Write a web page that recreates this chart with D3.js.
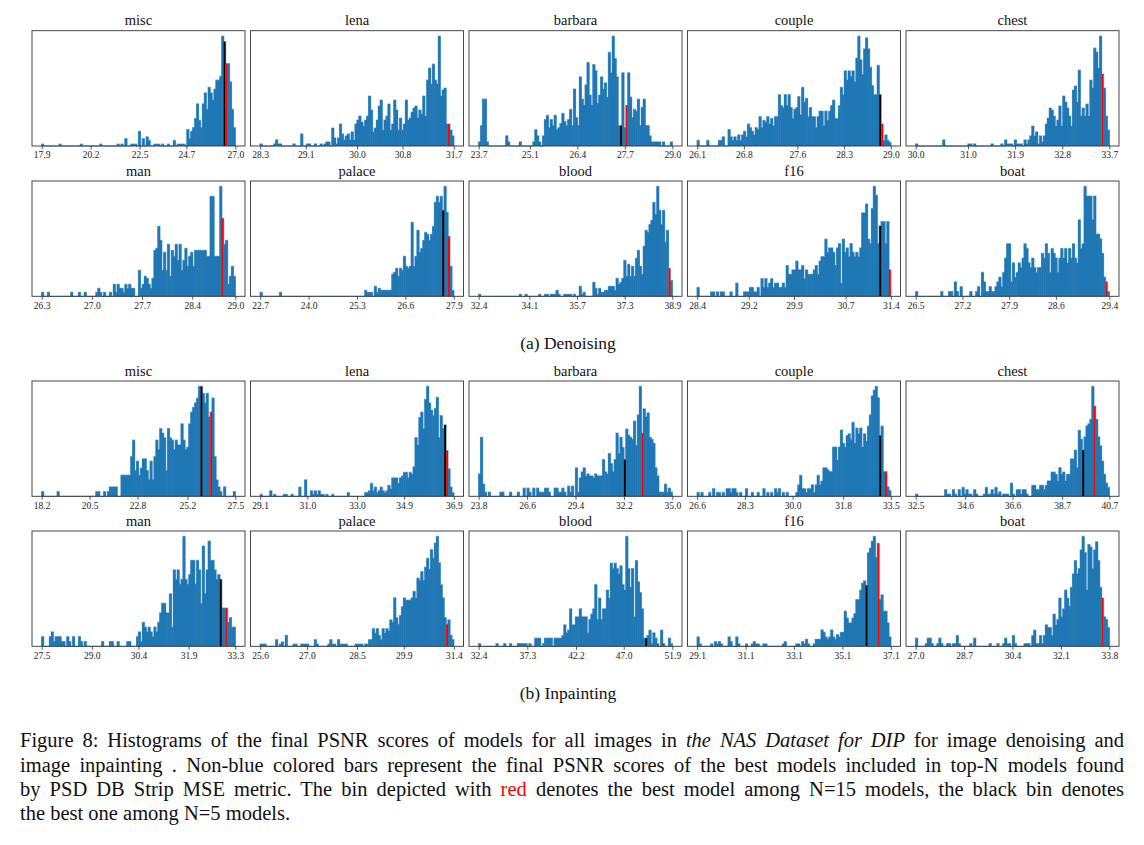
<!DOCTYPE html>
<html><head><meta charset="utf-8">
<script src="https://cdn.jsdelivr.net/npm/d3@7"></script>
<style>body{margin:0;background:#fff}</style>
</head><body>
<svg id="c" width="1144" height="845"></svg>
<script>
// ---------- DATA ----------
const imageNames = ["misc","lena","barbara","couple","chest","man","palace","blood","f16","boat"];

const denTicks = [
  [17.9,20.2,22.5,24.7,27.0],[28.3,29.1,30.0,30.8,31.7],[23.7,25.1,26.4,27.7,29.0],[26.1,26.8,27.6,28.3,29.0],[30.0,31.0,31.9,32.8,33.7],
  [26.3,27.0,27.7,28.4,29.0],[22.7,24.0,25.3,26.6,27.9],[32.4,34.1,35.7,37.3,38.9],[28.4,29.2,29.9,30.7,31.4],[26.5,27.2,27.9,28.6,29.4]
];
const inpTicks = [
  [18.2,20.5,22.8,25.2,27.5],[29.1,31.0,33.0,34.9,36.9],[23.8,26.6,29.4,32.2,35.0],[26.6,28.3,30.0,31.8,33.5],[32.5,34.6,36.6,38.7,40.7],
  [27.5,29.0,30.4,31.9,33.3],[25.6,27.0,28.5,29.9,31.4],[32.4,37.3,42.2,47.0,51.9],[29.1,31.1,33.1,35.1,37.1],[27.0,28.7,30.4,32.1,33.8]
];

// histogram counts, 100 bins each (denoising)
const denMisc = [1,0,0,0,0,0,0,0,0,1, 0,0,0,0,0,0,0,0,0,0, 1,0,0,0,0,0,0,0,0,0, 1,0,0,0,0,0,0,0,0,1,
  0,1,0,4,0,0,1,1,1,0, 8,0,4,0,5,3,0,0,1,1, 1,0,1,0,0,1,0,0,3,0, 1,1,1,1,0,9,4,8,10,15,
  23,14,10,23,29,20,32,29,25,31, 36,36,38,60,57,45,45,35,20,10];
const denLena = [1,0,0,0,0,0,0,1,3,1, 1,0,0,0,0,0,0,1,0,0, 0,6,0,0,1,1,0,0,1,0, 0,1,0,1,2,2,0,9,4,1,
  4,11,6,3,5,6,3,7,3,11, 13,15,12,10,13,15,25,18,7,9, 13,20,23,8,13,15,21,8,11,23, 18,8,14,8,11,23,13,14,17,19,
  20,14,18,16,25,15,33,39,31,41, 33,31,55,25,28,29,11,11,8,5];
const denBarbara = [2,10,23,23,2,0,0,0,0,0, 0,0,0,0,5,2,0,0,0,0, 0,2,0,0,0,0,0,0,2,8, 5,2,0,5,13,15,9,13,10,15,
  8,9,11,16,12,10,13,18,10,28, 14,10,34,23,20,30,41,25,20,40, 37,21,25,34,28,31,24,46,36,54, 43,34,10,10,36,9,20,36,24,14,
  18,17,23,10,19,23,10,10,5,2, 2,2,2,2,0,2,0,0,0,2];
const denCouple = [3,0,0,0,0,3,0,0,0,0, 0,3,3,5,0,0,9,5,3,5, 3,6,3,6,8,5,12,10,8,6, 10,9,16,10,14,13,16,12,15,11,
  16,16,28,22,21,28,22,28,21,15, 20,21,27,17,32,24,26,16,21,16, 16,10,16,19,19,11,19,14,19,22, 25,15,15,22,32,28,41,36,41,38,
  41,35,48,60,47,39,53,59,53,43, 33,28,28,44,28,12,3,6,3,2];
const denChest = [1,0,0,0,0,0,0,0,0,0, 0,0,0,0,3,0,0,0,0,0, 0,0,0,0,0,0,0,1,1,0, 1,0,0,0,0,0,0,0,0,1,
  0,0,0,0,1,0,3,1,1,1, 0,3,1,1,1,0,3,1,3,5, 10,5,7,1,5,2,5,11,14,19, 18,15,10,13,20,10,25,22,19,15,
  10,28,30,22,38,15,19,15,21,15, 33,29,49,47,39,55,36,29,15,8];
const denMan = [2,0,0,2,0,0,0,0,0,0, 0,0,0,0,0,2,0,0,0,2, 0,0,2,0,0,0,0,0,2,4, 2,0,2,0,0,2,0,6,2,6,
  4,4,2,6,4,6,4,4,0,0, 13,4,6,10,9,6,4,9,23,24, 35,28,13,22,13,26,10,23,20,26, 18,26,13,18,24,15,20,22,15,23,
  23,23,23,23,23,20,20,50,50,20, 20,20,55,39,26,28,6,10,15,10];
const denPalace = [2,0,0,0,0,0,0,0,0,0, 2,0,0,0,0,0,0,0,0,0, 0,0,0,0,0,0,0,0,0,0, 0,0,0,0,0,0,0,0,0,0,
  0,0,0,0,0,0,0,0,0,0, 0,0,0,0,3,2,2,2,0,5, 2,4,3,3,3,3,3,3,11,12, 14,10,14,13,20,15,14,15,37,15,
  20,33,22,24,28,32,31,28,31,35, 47,50,47,50,43,55,42,30,15,3];
const denBlood = [1,0,0,0,0,0,0,0,0,0, 0,0,0,0,0,0,0,0,0,0, 0,1,0,0,1,0,0,0,0,0, 0,1,0,0,1,1,0,1,1,1,
  3,1,0,0,1,1,1,1,0,1, 0,0,5,1,2,0,0,0,0,7, 4,1,4,2,2,3,3,5,5,5, 3,9,6,7,9,18,10,16,10,15,
  10,19,23,15,11,25,33,32,36,38, 47,41,55,43,36,43,27,33,14,8];
const denF16 = [2,0,0,0,0,0,0,1,1,0, 1,0,1,1,0,0,0,1,0,0, 3,0,0,0,1,1,1,2,2,1, 1,2,0,4,2,4,2,3,4,2,
  3,3,2,2,3,2,7,5,5,6, 6,8,6,6,7,4,6,5,5,5, 6,7,5,8,9,9,13,10,11,11, 10,7,11,12,3,13,10,11,9,12,
  10,9,10,9,11,19,19,21,13,12, 20,25,23,12,16,17,17,12,17,6];
const denBoat = [1,0,0,0,0,0,0,0,0,0, 0,0,0,1,0,0,0,1,1,0, 3,1,0,2,0,0,0,0,1,0, 0,1,2,0,5,3,1,1,2,1,
  1,2,3,4,2,5,8,11,11,3, 7,4,5,7,6,8,11,10,7,6, 8,6,5,6,6,9,8,11,9,5, 10,9,8,5,8,10,8,10,7,10,
  8,11,8,7,16,10,11,23,21,21, 21,16,21,13,13,12,9,4,3,1];

// histogram counts, 100 bins each (inpainting)
const inpMisc = [2,0,0,0,0,0,0,0,2,0, 0,0,0,0,0,0,0,0,0,0, 0,0,0,0,0,0,0,0,2,2, 0,0,2,0,2,4,4,4,4,0,
  0,9,9,9,9,9,17,24,11,15, 9,12,16,16,11,7,15,7,17,24, 20,29,27,25,11,29,25,24,20,24, 22,22,31,24,20,21,31,36,38,40,
  42,47,47,44,40,44,34,36,42,17, 7,4,2,0,4,0,0,0,0,2];
const inpLena = [1,0,0,0,0,3,0,1,0,0, 0,0,1,1,0,0,1,0,0,0, 5,0,0,9,0,0,3,1,3,1, 3,1,1,0,1,0,0,1,0,0,
  0,0,0,0,0,2,0,0,0,0, 0,0,0,0,2,2,3,7,3,5, 2,3,5,3,2,3,6,4,10,10, 10,7,10,11,13,13,10,13,12,16,
  32,28,43,46,37,53,60,51,47,44, 48,54,32,44,37,39,25,15,5,2];
const inpBarbara = [11,29,6,2,0,2,0,0,0,0, 0,2,2,0,0,0,2,0,0,0, 2,0,0,4,0,4,2,0,4,0, 4,2,2,2,4,4,2,0,0,4,
  4,2,2,4,2,0,5,2,5,0, 14,2,9,12,14,10,11,10,10,9, 11,10,10,10,18,12,11,21,16,12, 18,31,21,29,24,18,33,30,29,28,
  37,25,40,54,31,43,39,41,29,28, 26,14,10,2,2,2,6,2,4,2];
const inpCouple = [2,0,2,0,0,0,2,0,4,0, 2,2,0,2,0,4,4,2,4,4, 2,0,2,0,0,4,0,0,2,0, 0,2,0,0,4,0,2,0,2,0,
  4,2,4,0,2,0,2,0,0,0, 0,2,6,11,4,4,2,4,4,6, 2,6,11,6,8,15,15,14,13,13, 26,26,19,26,35,28,26,32,33,30,
  39,28,36,33,36,26,33,29,37,43, 53,56,58,52,32,37,13,13,5,3];
const inpChest = [1,0,0,0,0,0,0,0,0,0, 0,0,0,0,0,3,1,1,0,3, 1,0,3,0,4,1,3,1,1,0, 3,1,0,0,0,1,4,1,1,3,
  1,4,1,2,0,1,1,1,0,6, 1,0,3,3,1,3,3,1,0,0, 5,5,3,3,5,5,3,5,7,7, 11,11,10,7,13,10,11,7,10,10,
  17,17,21,13,30,26,21,27,32,33, 35,50,41,35,27,23,16,10,6,4];
const inpMan = [2,0,0,0,2,3,1,2,2,2, 1,1,0,2,1,0,2,0,0,2, 1,0,1,0,0,0,0,0,0,0, 0,1,0,0,0,1,1,0,0,1,
  0,0,0,0,1,1,0,0,0,2, 3,1,5,4,3,4,3,2,4,3, 5,7,9,9,7,7,11,4,16,14, 16,13,14,23,14,13,15,18,18,13,
  18,16,9,21,11,16,22,18,18,16, 14,15,14,8,8,8,5,6,4,4];
const inpPalace = [1,1,1,0,0,0,0,0,3,0, 1,2,0,5,0,0,0,1,1,0, 0,1,1,1,1,0,0,0,3,1, 0,0,0,0,0,1,3,1,1,0,
  3,1,1,1,1,0,0,0,0,1, 1,1,1,0,1,1,3,3,8,6, 8,5,3,8,6,8,7,12,11,22, 13,10,14,18,22,21,21,21,22,25,
  22,31,30,34,30,36,40,35,44,40, 47,50,38,28,22,13,10,12,5,3];
const inpBlood = [1,0,0,0,0,0,0,0,0,1, 0,0,0,1,0,0,1,0,0,0, 1,1,1,1,1,0,1,0,0,3, 3,3,0,1,3,3,3,3,0,3,
  3,3,3,4,8,5,6,14,8,8, 11,11,14,11,11,11,5,10,12,14, 23,10,18,10,14,14,21,18,31,29, 31,29,27,30,23,21,41,29,22,29,
  11,32,24,20,14,3,3,4,6,1, 5,3,1,0,6,1,0,0,3,1];
const inpF16 = [4,1,0,0,0,0,0,1,0,2, 1,2,1,0,0,0,4,2,0,0, 4,1,0,0,0,1,0,0,1,2, 1,1,0,0,1,1,0,0,0,0,
  0,0,0,0,1,2,0,0,0,0, 0,1,1,0,2,1,3,1,0,0, 1,3,3,3,7,6,4,3,4,7, 4,3,5,4,6,6,15,12,10,10,
  12,14,20,20,24,27,28,26,40,42, 45,47,38,44,20,22,15,15,10,4];
const inpBoat = [3,0,0,0,0,1,3,3,1,0, 0,1,3,1,0,0,1,1,0,1, 1,4,1,0,0,0,0,0,1,0, 3,0,0,0,0,0,0,0,1,0,
  0,0,1,0,0,1,3,1,1,0, 4,1,0,0,0,0,1,1,1,0, 4,6,1,1,4,1,4,8,7,7, 4,12,8,10,18,11,14,21,18,15,
  22,27,32,27,29,36,41,35,21,38, 37,29,36,39,32,22,18,11,10,7];

const denCounts = [denMisc,denLena,denBarbara,denCouple,denChest,denMan,denPalace,denBlood,denF16,denBoat];
const inpCounts = [inpMisc,inpLena,inpBarbara,inpCouple,inpChest,inpMan,inpPalace,inpBlood,inpF16,inpBoat];
// bin index of best model among top-5 (black) and top-15 (red)
const denBlack = [94,null,73,94,null,null,94,null,94,null];
const denRed   = [95,97,76,95,96,93,97,98,99,98];
const inpBlack = [82,95,75,94,86,92,null,86,87,null];
const inpRed   = [87,96,84,97,92,95,96,95,93,96];

const subCaptions = ["(a) Denoising","(b) Inpainting"];

// ---------- DRAW ----------
const svg = d3.select("#c");
const serif = "'Liberation Serif','Times New Roman',serif";
const W = 213, H = 115.3;
const colX = [0,1,2,3,4].map(c => 32 + c*218.5);
const rowY = [30.7, 181, 381, 531];

function drawPanel(name, ticks, counts, blackIdx, redIdx, x0, y0) {
  const g = svg.append("g");
  const lo = ticks[0], hi = ticks[ticks.length-1], span = hi - lo;
  const x = d3.scaleLinear().domain([lo - 0.05*span, hi + 0.05*span]).range([x0, x0 + W]);
  const y = d3.scaleLinear().domain([0, d3.max(counts)*1.05]).range([y0 + H, y0]);
  const n = counts.length, bw = span / n;
  const bins = counts.map((c,i) => ({i, c, a: lo + i*bw, b: lo + (i+1)*bw}));

  // light outline (halo) of the histogram silhouette
  const pts = bins.map(d => [d.a, d.c]);
  pts.push([hi, counts[n-1]]);
  const stepLine = d3.line().x(p => x(p[0])).y(p => y(p[1])).curve(d3.curveStepAfter);
  g.append("path")
    .attr("d", stepLine([[lo,0]].concat(pts).concat([[hi,0]])))
    .attr("fill","none").attr("stroke","#7fb3de").attr("stroke-width",1.3);

  const col = d => d.i === redIdx ? "#ff0000" : (d.i === blackIdx ? "#000000" : "#1f77b4");
  const drawn = bins.filter(d => d.c > 0);
  // blue bars first (slightly overlapping to avoid seams), highlighted bins on top
  g.selectAll("rect.bar").data(drawn.filter(d => d.i !== redIdx && d.i !== blackIdx)).join("rect")
    .attr("class","bar")
    .attr("x", d => x(d.a) - 0.3).attr("width", d => x(d.b) - x(d.a) + 0.6)
    .attr("y", d => y(d.c)).attr("height", d => y(0) - y(d.c))
    .attr("fill", col);
  g.selectAll("rect.hl").data(drawn.filter(d => d.i === redIdx || d.i === blackIdx)).join("rect")
    .attr("class","hl")
    .attr("x", d => x(d.a)).attr("width", d => x(d.b) - x(d.a))
    .attr("y", d => y(d.c)).attr("height", d => y(0) - y(d.c))
    .attr("fill", col);

  const ax = d3.axisBottom(x).tickValues(ticks).tickFormat(d3.format(".1f")).tickSize(3.5).tickPadding(2);
  const axg = g.append("g").attr("transform", `translate(0,${y0 + H})`).call(ax);
  axg.select(".domain").remove();
  axg.selectAll(".tick line").attr("stroke","#333").attr("stroke-width",0.8);
  axg.selectAll(".tick text").attr("font-family", serif).attr("font-size", 9.5).attr("fill","#222");

  g.append("rect").attr("x", x0).attr("y", y0).attr("width", W).attr("height", H)
    .attr("fill","none").attr("stroke","#333").attr("stroke-width",0.9);

  g.append("text").attr("x", x0 + W/2).attr("y", y0 - 5.5).attr("text-anchor","middle")
    .attr("font-family", serif).attr("font-size", 14.5).attr("fill","#111").text(name);
}

imageNames.forEach((nm, k) => {
  const r = Math.floor(k/5), c = k % 5;
  drawPanel(nm, denTicks[k], denCounts[k], denBlack[k], denRed[k], colX[c], rowY[r]);
  drawPanel(nm, inpTicks[k], inpCounts[k], inpBlack[k], inpRed[k], colX[c], rowY[r+2]);
});

[349, 699].forEach((yy, i) => {
  svg.append("text").attr("x", 568).attr("y", yy).attr("text-anchor","middle")
    .attr("font-family", serif).attr("font-size", 17.5).attr("fill","#111").text(subCaptions[i]);
});

// figure caption (justified by word spacing)
const capX = 20, capW = 1104;
const capLines = [
  {y: 747, just: true, parts: [["Figure 8: Histograms of the final PSNR scores of models for all images in ", ""], ["the NAS Dataset for DIP", "it"], [" for image denoising and", ""]]},
  {y: 772, just: true, parts: [["image inpainting . Non-blue colored bars represent the final PSNR scores of the best models included in top-N models found", ""]]},
  {y: 796, just: true, parts: [["by PSD DB Strip MSE metric. The bin depicted with ", ""], ["red", "red"], [" denotes the best model among N=15 models, the black bin denotes", ""]]},
  {y: 820, just: false, parts: [["the best one among N=5 models.", ""]]}
];
capLines.forEach(L => {
  const t = svg.append("text").attr("x", capX).attr("y", L.y)
    .attr("font-family", serif).attr("font-size", 20.5).attr("fill","#111")
    .attr("xml:space","preserve");
  L.parts.forEach(p => {
    const s = t.append("tspan").text(p[0]);
    if (p[1] === "it") s.attr("font-style","italic");
    if (p[1] === "red") s.attr("fill","#ff0000");
  });
  if (L.just) {
    const natural = t.node().getComputedTextLength();
    const spaces = L.parts.map(p => p[0]).join("").split(" ").length - 1;
    const ws = (capW - natural) / spaces;
    t.attr("word-spacing", ws);
    const after = t.node().getComputedTextLength();
    if (Math.abs(after - capW) > 2) t.attr("word-spacing", null).attr("textLength", capW).attr("lengthAdjust","spacing");
  }
});
</script>
</body></html>
